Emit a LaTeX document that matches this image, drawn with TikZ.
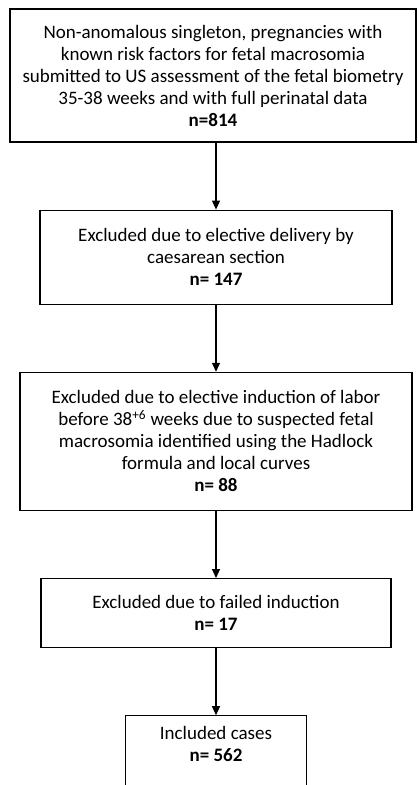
\documentclass[tikz,border=0pt]{standalone}
\usepackage{fontspec}
\setmainfont{Carlito}
\usetikzlibrary{positioning,arrows.meta}

\begin{document}
\begin{tikzpicture}[x=1pt, y=1pt,
    box/.style={draw, line width=1.2pt, align=center, inner sep=0pt,
        font=\fontsize{19}{22}\selectfont},
    >={Triangle[length=9pt,width=8pt]}]
    \clip (0,0) rectangle (418,-785);
    % Draw the boxes
    \node[box, minimum width=406pt, minimum height=133pt] (b1) at (213,-75.5)
        {Non-anomalous singleton, pregnancies with\\
         known risk factors for fetal macrosomia\\
         submitted to US assessment of the fetal biometry\\
         35-38 weeks and with full perinatal data\\
         \textbf{n=814}};
    \node[box, minimum width=352pt, minimum height=94pt,
          below=67pt of b1, xshift=3pt] (b2)
        {Excluded due to elective delivery by\\
         caesarean section\\
         \textbf{n= 147}};
    \node[box, minimum width=392pt, minimum height=138pt, below=67pt of b2] (b3)
        {Excluded due to elective induction of labor\\
         before 38\textsuperscript{+6} weeks due to suspected fetal\\
         macrosomia identified using the Hadlock\\
         formula and local curves\\
         \textbf{n= 88}};
    \node[box, minimum width=350pt, minimum height=69pt, below=67pt of b3] (b4)
        {Excluded due to failed induction\\
         \textbf{n= 17}};
    \node[box, draw=none, minimum width=180pt, minimum height=56pt,
          below=67pt of b4] (b5)
        {Included cases\\
         \textbf{n= 562}};
    \draw[line width=1.2pt] ([yshift=-40pt]b5.south west) -- (b5.north west)
        -- (b5.north east) -- ([yshift=-40pt]b5.south east);

    % Connect the boxes with arrows
    \draw[->, line width=1.2pt]
        (b2.north |- b1.south) -- (b2.north)
        (b2) edge (b3)
        (b3) edge (b4)
        (b4) edge (b5);
\end{tikzpicture}
\end{document}
